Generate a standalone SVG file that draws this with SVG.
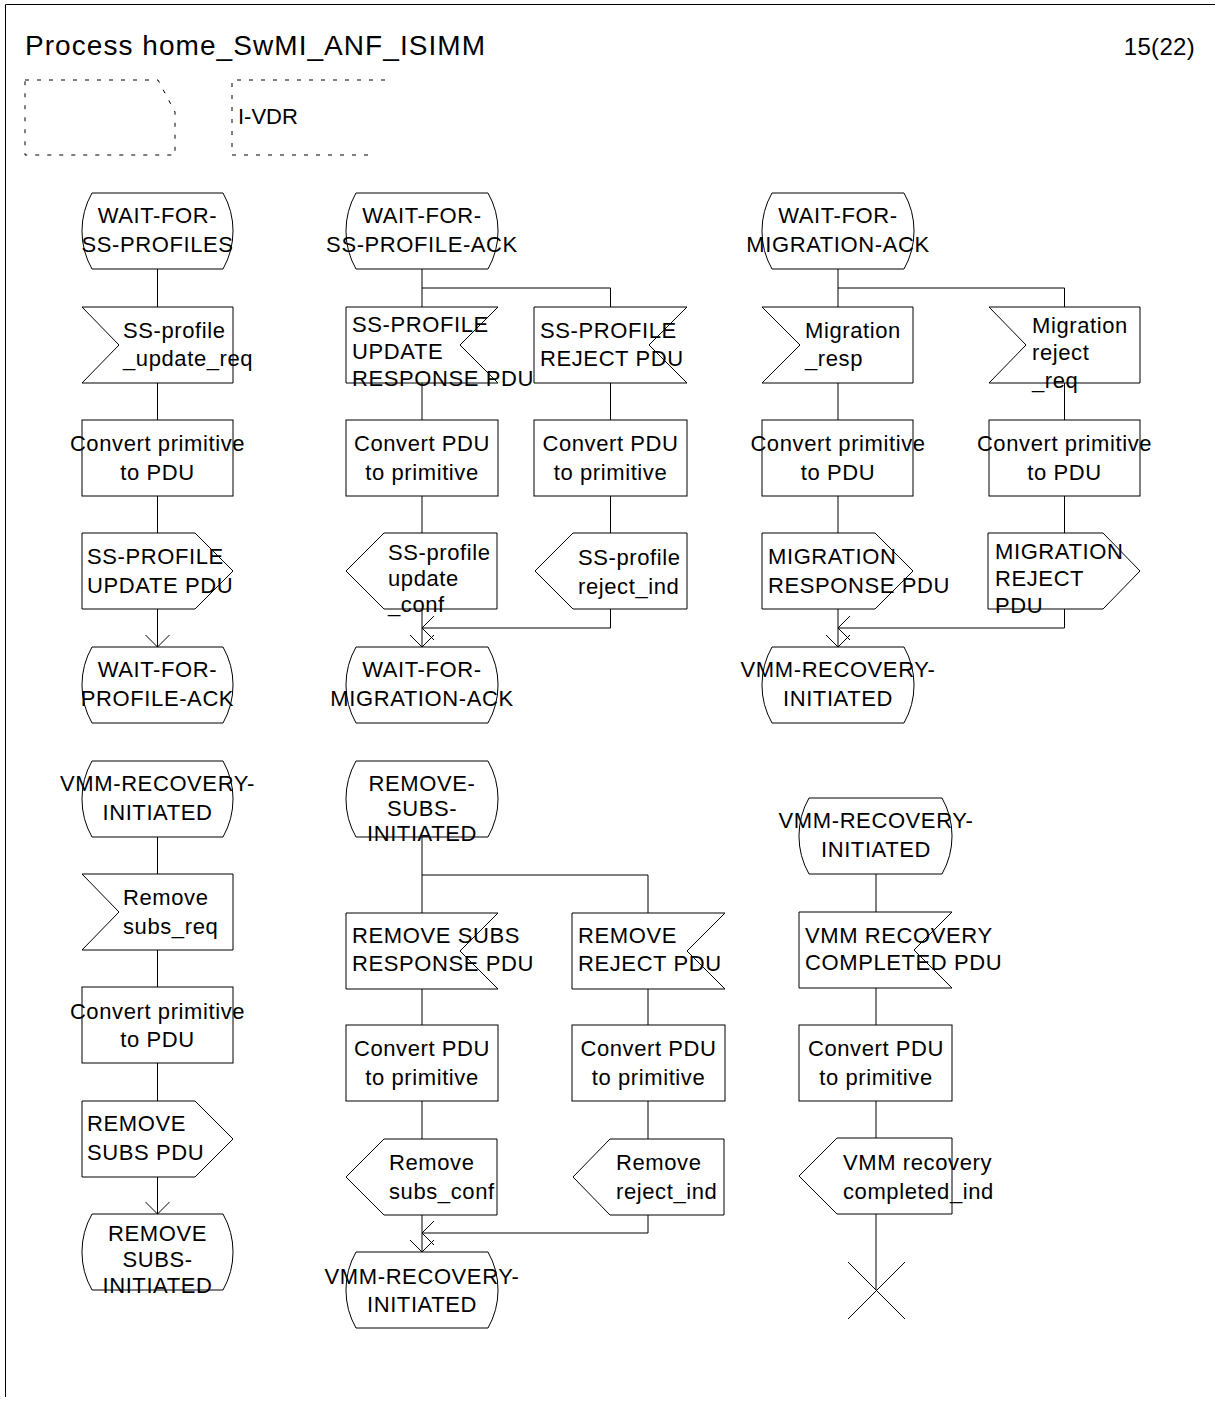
<svg xmlns="http://www.w3.org/2000/svg" width="1215" height="1401" viewBox="0 0 1215 1401">
<style>
.s{fill:#fff;stroke:#000;stroke-width:1}
.ln{fill:none;stroke:#000;stroke-width:1}
.d{fill:none;stroke:#000;stroke-width:1;stroke-dasharray:4 8}
text{font-family:"Liberation Sans",Arial,sans-serif;font-size:22px;letter-spacing:0.6px;fill:#000}
.c{text-anchor:middle}
</style>
<defs>
<marker id="arr" viewBox="0 0 30 30" refX="13" refY="13" markerWidth="30" markerHeight="30" markerUnits="userSpaceOnUse" orient="auto">
<path d="M1,1 L13,13 L1,25" fill="none" stroke="#000" stroke-width="1"/>
</marker>
</defs>
<rect x="0" y="0" width="1215" height="1401" fill="#fff"/>
<g id="frame">
<path class="ln" d="M1215,4.5 H5.5 V1397"/>
<text x="25" y="55" style="font-size:28px;letter-spacing:0" textLength="460" lengthAdjust="spacing">Process home_SwMI_ANF_ISIMM</text>
<text x="1195" y="55" style="font-size:24px;letter-spacing:0.3px;text-anchor:end">15(22)</text>
<path class="d" d="M25,80 H158 L175,112 V155 H25 Z"/>
<path class="d" d="M385,80 H232 V155 H375"/>
<text x="238" y="124" style="letter-spacing:0">I-VDR</text>
</g>

<g id="connectors">
<path class="ln" d="M157.5,269 V307 M157.5,383 V420 M157.5,496 V533"/>
<path class="ln" d="M157.5,609 V647" marker-end="url(#arr)"/>
<path class="ln" d="M157.5,837 V874 M157.5,950 V987 M157.5,1063 V1101"/>
<path class="ln" d="M157.5,1177 V1214" marker-end="url(#arr)"/>
<path class="ln" d="M422,269 V307 M422,288 H610.5 V307 M422,383 V420 M610.5,383 V420 M422,496 V533 M610.5,496 V533"/>
<path class="ln" d="M422,609 V647" marker-end="url(#arr)"/>
<path class="ln" d="M610.5,609 V628 H422" marker-end="url(#arr)"/>
<path class="ln" d="M422,837 V913 M422,875 H648 V913 M422,989 V1025 M648,989 V1025 M422,1101 V1139 M648,1101 V1139"/>
<path class="ln" d="M422,1215 V1252" marker-end="url(#arr)"/>
<path class="ln" d="M648,1215 V1233 H422" marker-end="url(#arr)"/>
<path class="ln" d="M838,269 V307 M838,288 H1064.5 V307 M838,383 V420 M1064.5,383 V420 M838,496 V533 M1064.5,496 V533"/>
<path class="ln" d="M838,609 V647" marker-end="url(#arr)"/>
<path class="ln" d="M1064.5,609 V628 H838" marker-end="url(#arr)"/>
<path class="ln" d="M876,874 V912 M876,988 V1025 M876,1101 V1138 M876,1214 V1290"/>
</g>

<!-- Column A -->
<g id="a_state1">
<path class="s" d="M92,193 H223 A77,77 0 0 1 223,269 H92 A77,77 0 0 1 92,193 Z"/>
<text class="c" x="157.5" y="223">WAIT-FOR-</text>
<text class="c" x="157.5" y="252">SS-PROFILES</text>
</g>
<g id="a_input1">
<polygon class="s" points="82,307 233,307 233,383 82,383 119,345"/>
<text x="123" y="338">SS-profile</text>
<text x="123" y="366">_update_req</text>
</g>
<g id="a_task1">
<rect class="s" x="82" y="420" width="151" height="76"/>
<text class="c" x="157.5" y="451">Convert primitive</text>
<text class="c" x="157.5" y="480">to PDU</text>
</g>
<g id="a_output1">
<polygon class="s" points="82,533 195,533 233,571 195,609 82,609"/>
<text x="87" y="564">SS-PROFILE</text>
<text x="87" y="593">UPDATE PDU</text>
</g>
<g id="a_state2">
<path class="s" d="M92,647 H223 A77,77 0 0 1 223,723 H92 A77,77 0 0 1 92,647 Z"/>
<text class="c" x="157.5" y="677">WAIT-FOR-</text>
<text class="c" x="157.5" y="706">PROFILE-ACK</text>
</g>
<g id="a_state3">
<path class="s" d="M92,761 H223 A77,77 0 0 1 223,837 H92 A77,77 0 0 1 92,761 Z"/>
<text class="c" x="157.5" y="791">VMM-RECOVERY-</text>
<text class="c" x="157.5" y="820">INITIATED</text>
</g>
<g id="a_input2">
<polygon class="s" points="82,874 233,874 233,950 82,950 119,912"/>
<text x="123" y="905">Remove</text>
<text x="123" y="934">subs_req</text>
</g>
<g id="a_task2">
<rect class="s" x="82" y="987" width="151" height="76"/>
<text class="c" x="157.5" y="1019">Convert primitive</text>
<text class="c" x="157.5" y="1047">to PDU</text>
</g>
<g id="a_output2">
<polygon class="s" points="82,1101 195,1101 233,1139 195,1177 82,1177"/>
<text x="87" y="1131">REMOVE</text>
<text x="87" y="1160">SUBS PDU</text>
</g>
<g id="a_state4">
<path class="s" d="M92,1214 H223 A77,77 0 0 1 223,1290 H92 A77,77 0 0 1 92,1214 Z"/>
<text class="c" x="157.5" y="1241">REMOVE</text>
<text class="c" x="157.5" y="1267">SUBS-</text>
<text class="c" x="157.5" y="1293">INITIATED</text>
</g>

<!-- Column B -->
<g id="b_state1">
<path class="s" d="M356,193 H488 A77,77 0 0 1 488,269 H356 A77,77 0 0 1 356,193 Z"/>
<text class="c" x="422" y="223">WAIT-FOR-</text>
<text class="c" x="422" y="252">SS-PROFILE-ACK</text>
</g>
<g id="b_input1">
<polygon class="s" points="346,307 498,307 460,345 498,383 346,383"/>
<text x="352" y="332">SS-PROFILE</text>
<text x="352" y="359">UPDATE</text>
<text x="352" y="386">RESPONSE PDU</text>
</g>
<g id="b_input2">
<polygon class="s" points="534,307 687,307 649,345 687,383 534,383"/>
<text x="540" y="338">SS-PROFILE</text>
<text x="540" y="366">REJECT PDU</text>
</g>
<g id="b_task1">
<rect class="s" x="346" y="420" width="152" height="76"/>
<text class="c" x="422" y="451">Convert PDU</text>
<text class="c" x="422" y="480">to primitive</text>
</g>
<g id="b_task2">
<rect class="s" x="534" y="420" width="153" height="76"/>
<text class="c" x="610.5" y="451">Convert PDU</text>
<text class="c" x="610.5" y="480">to primitive</text>
</g>
<g id="b_output1">
<polygon class="s" points="384,533 497,533 497,609 384,609 346,571"/>
<text x="388" y="560">SS-profile</text>
<text x="388" y="586">update</text>
<text x="388" y="612">_conf</text>
</g>
<g id="b_output2">
<polygon class="s" points="573,533 687,533 687,609 573,609 535,571"/>
<text x="578" y="565">SS-profile</text>
<text x="578" y="594">reject_ind</text>
</g>
<g id="b_state2">
<path class="s" d="M356,647 H488 A77,77 0 0 1 488,723 H356 A77,77 0 0 1 356,647 Z"/>
<text class="c" x="422" y="677">WAIT-FOR-</text>
<text class="c" x="422" y="706">MIGRATION-ACK</text>
</g>
<g id="b_state3">
<path class="s" d="M356,761 H488 A77,77 0 0 1 488,837 H356 A77,77 0 0 1 356,761 Z"/>
<text class="c" x="422" y="791">REMOVE-</text>
<text class="c" x="422" y="816">SUBS-</text>
<text class="c" x="422" y="841">INITIATED</text>
</g>
<g id="b_input3">
<polygon class="s" points="346,913 498,913 460,951 498,989 346,989"/>
<text x="352" y="943">REMOVE SUBS</text>
<text x="352" y="971">RESPONSE PDU</text>
</g>
<g id="b_input4">
<polygon class="s" points="572,913 725,913 687,951 725,989 572,989"/>
<text x="578" y="943">REMOVE</text>
<text x="578" y="971">REJECT PDU</text>
</g>
<g id="b_task3">
<rect class="s" x="346" y="1025" width="152" height="76"/>
<text class="c" x="422" y="1056">Convert PDU</text>
<text class="c" x="422" y="1085">to primitive</text>
</g>
<g id="b_task4">
<rect class="s" x="572" y="1025" width="153" height="76"/>
<text class="c" x="648.5" y="1056">Convert PDU</text>
<text class="c" x="648.5" y="1085">to primitive</text>
</g>
<g id="b_output3">
<polygon class="s" points="384,1139 497,1139 497,1215 384,1215 346,1177"/>
<text x="389" y="1170">Remove</text>
<text x="389" y="1199">subs_conf</text>
</g>
<g id="b_output4">
<polygon class="s" points="610,1139 724,1139 724,1215 610,1215 573,1177"/>
<text x="616" y="1170">Remove</text>
<text x="616" y="1199">reject_ind</text>
</g>
<g id="b_state4">
<path class="s" d="M356,1252 H488 A77,77 0 0 1 488,1328 H356 A77,77 0 0 1 356,1252 Z"/>
<text class="c" x="422" y="1284">VMM-RECOVERY-</text>
<text class="c" x="422" y="1312">INITIATED</text>
</g>

<!-- Column C -->
<g id="c_state1">
<path class="s" d="M772,193 H904 A77,77 0 0 1 904,269 H772 A77,77 0 0 1 772,193 Z"/>
<text class="c" x="838" y="223">WAIT-FOR-</text>
<text class="c" x="838" y="252">MIGRATION-ACK</text>
</g>
<g id="c_input1">
<polygon class="s" points="762,307 913,307 913,383 762,383 800,345"/>
<text x="805" y="338">Migration</text>
<text x="805" y="366">_resp</text>
</g>
<g id="c_input2">
<polygon class="s" points="989,307 1140,307 1140,383 989,383 1026,345"/>
<text x="1032" y="333">Migration</text>
<text x="1032" y="360">reject</text>
<text x="1032" y="388">_req</text>
</g>
<g id="c_task1">
<rect class="s" x="762" y="420" width="151" height="76"/>
<text class="c" x="838" y="451">Convert primitive</text>
<text class="c" x="838" y="480">to PDU</text>
</g>
<g id="c_task2">
<rect class="s" x="989" y="420" width="151" height="76"/>
<text class="c" x="1064.5" y="451">Convert primitive</text>
<text class="c" x="1064.5" y="480">to PDU</text>
</g>
<g id="c_output1">
<polygon class="s" points="762,533 875,533 913,571 875,609 762,609"/>
<text x="768" y="564">MIGRATION</text>
<text x="768" y="593">RESPONSE PDU</text>
</g>
<g id="c_output2">
<polygon class="s" points="988,533 1103,533 1140,571 1103,609 988,609"/>
<text x="995" y="559">MIGRATION</text>
<text x="995" y="586">REJECT</text>
<text x="995" y="613">PDU</text>
</g>
<g id="c_state2">
<path class="s" d="M772,647 H904 A77,77 0 0 1 904,723 H772 A77,77 0 0 1 772,647 Z"/>
<text class="c" x="838" y="677">VMM-RECOVERY-</text>
<text class="c" x="838" y="706">INITIATED</text>
</g>
<g id="c_state3">
<path class="s" d="M809,798 H942 A77,77 0 0 1 942,874 H809 A77,77 0 0 1 809,798 Z"/>
<text class="c" x="876" y="828">VMM-RECOVERY-</text>
<text class="c" x="876" y="857">INITIATED</text>
</g>
<g id="c_input3">
<polygon class="s" points="799,912 952,912 914,950 952,988 799,988"/>
<text x="805" y="943">VMM RECOVERY</text>
<text x="805" y="970">COMPLETED PDU</text>
</g>
<g id="c_task3">
<rect class="s" x="799" y="1025" width="153" height="76"/>
<text class="c" x="876" y="1056">Convert PDU</text>
<text class="c" x="876" y="1085">to primitive</text>
</g>
<g id="c_output3">
<polygon class="s" points="837,1138 952,1138 952,1214 837,1214 799,1176"/>
<text x="843" y="1170">VMM recovery</text>
<text x="843" y="1199">completed_ind</text>
</g>
<g id="c_stop">
<path class="ln" d="M848,1262 L905,1319 M905,1262 L848,1319"/>
</g>
</svg>
